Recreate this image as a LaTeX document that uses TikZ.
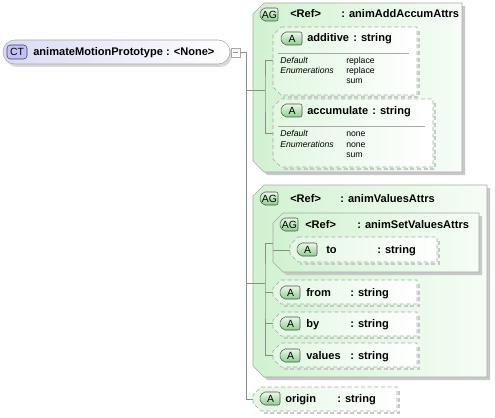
\documentclass[tikz,border=0pt]{standalone}
\usepackage{fontspec}
\setmainfont{Liberation Sans}
\usetikzlibrary{positioning}

\definecolor{agfill}{HTML}{D0F2D0}
\definecolor{agright}{HTML}{F6FDF6}
\definecolor{attrfill}{HTML}{E2F7E2}
\definecolor{boxline}{HTML}{A8A8A8}
\definecolor{shadowgrey}{HTML}{C8C8C8}
\definecolor{tagtop}{HTML}{EAF8EA}
\definecolor{tagbot}{HTML}{8CCF8C}
\definecolor{tagline}{HTML}{505050}
\definecolor{ctfill}{HTML}{DADAF5}
\definecolor{cttag}{HTML}{C2C2F0}
\definecolor{wireline}{HTML}{8C8C8C}

% group box with cut corners: x0, y0, x1, y1, cut
\newcommand{\agbox}[5]{%
  \fill[shadowgrey, shift={(3,3)}] (#1+#5,#2) -- (#3,#2) -- (#3,#4) -- (#1+#5,#4) -- (#1,#4-#5) -- (#1,#2+#5) -- cycle;
  \path[draw=boxline, left color=agfill, right color=agright] (#1+#5,#2) -- (#3,#2) -- (#3,#4) -- (#1+#5,#4) -- (#1,#4-#5) -- (#1,#2+#5) -- cycle;}
% attribute box, dashed: x0, y0, x1, y1, cut
\newcommand{\attrbox}[5]{%
  \draw[shadowgrey, dashpat, line width=1pt, shift={(2,2)}] (#3,#2+2) -- (#3,#4) -- (#1+#5,#4);
  \path[draw=boxline, dashpat, left color=attrfill, right color=white] (#1+#5,#2) -- (#3,#2) -- (#3,#4) -- (#1+#5,#4) -- (#1,#4-#5) -- (#1,#2+#5) -- cycle;}
% small tag: name, x0, y0, x1, text
\newcommand{\tagbox}[5]{%
  \path[draw=tagline, top color=tagtop, bottom color=tagbot, rounded corners=1.5pt] (#2+4,#3) -- (#4,#3) -- (#4,#3+13) -- (#2+4,#3+13) -- (#2,#3+6.5) -- cycle;
  \node[tagtext] (#1) at ({(#2+#4)/2+1},#3+6.8) {#5};}

\begin{document}
\begin{tikzpicture}[x=0.75pt, y=-0.75pt,
    lbl/.style={anchor=base west, inner sep=0pt, font=\fontsize{8.3}{10}\selectfont\bfseries},
    small/.style={anchor=base west, inner sep=0pt, font=\fontsize{6.5}{8}\selectfont},
    smallit/.style={small, font=\fontsize{6.5}{8}\selectfont\itshape},
    tagtext/.style={inner sep=0pt, font=\fontsize{7.8}{9}\selectfont},
    dashpat/.style={dash pattern=on 3pt off 2pt},
    wire/.style={draw=wireline, line width=0.5pt}]
  \useasboundingbox (0,0) rectangle (495,417);

  % complex type
  \fill[shadowgrey!70, rounded corners=9pt] (5,43) rectangle (232,67);
  \path[draw=boxline, left color=ctfill, right color=white, rounded corners=9pt] (3,40) rectangle (230,64);
  \path[draw=tagline!70!blue, fill=cttag, rounded corners=2.5pt] (7,45) rectangle (27,59);
  \node[tagtext] (ctTag) at (17,52.3) {CT};
  \node[lbl] (ct) at (33,56) {animateMotionPrototype : <None>};
  \node[draw=boxline, fill=white, minimum size=6.75pt, inner sep=0pt] (minus) at (235.5,52.5) {};
  \draw[wireline] ([xshift=1.5pt]minus.west) -- ([xshift=-1.5pt]minus.east);

  % first attribute group
  \agbox{253}{3}{462}{172}{11}
  \tagbox{agTagA}{259}{8}{278}{AG}
  \node[lbl] (refA) at (290,18) {<Ref>};
  \node[lbl] (agA) at (341,18) {: animAddAccumAttrs};

  \attrbox{273}{27}{417}{95}{8}
  \tagbox{tagAdd}{280}{32}{302}{A}
  \node[lbl] (additive) at (307,42) {additive};
  \node[lbl] (addType) at (353,42) {: string};
  \draw[boxline] (278,53) -- (409,53);
  \node[smallit] (addDef) at (280,64) {Default};
  \node[smallit] (addEnum) at (280,74) {Enumerations};
  \node[small] (addV1) at (346,64) {replace};
  \node[small] (addV2) at (346,74) {replace};
  \node[small] (addV3) at (346,84) {sum};

  \attrbox{273}{99}{433}{167}{8}
  \tagbox{tagAcc}{280}{104}{302}{A}
  \node[lbl] (accumulate) at (307,115) {accumulate};
  \node[lbl] (accType) at (372,115) {: string};
  \draw[boxline] (278,126) -- (425,126);
  \node[smallit] (accDef) at (280,137) {Default};
  \node[smallit] (accEnum) at (280,147) {Enumerations};
  \node[small] (accV1) at (346,137) {none};
  \node[small] (accV2) at (346,147) {none};
  \node[small] (accV3) at (346,157) {sum};

  % second attribute group
  \agbox{253}{185}{487}{377}{11}
  \tagbox{agTagB}{259}{192}{278}{AG}
  \node[lbl] (refB) at (290,202) {<Ref>};
  \node[lbl] (agB) at (340,202) {: animValuesAttrs};

  \agbox{273}{213}{479}{272}{10}
  \tagbox{agTagC}{279}{218}{298}{AG}
  \node[lbl] (refC) at (305,228) {<Ref>};
  \node[lbl] (agC) at (357,228) {: animSetValuesAttrs};

  \attrbox{290}{237}{437}{262}{8}
  \tagbox{tagTo}{296}{243}{317}{A}
  \node[lbl] (to) at (326,253) {to};
  \node[lbl] (toType) at (377,253) {: string};

  \attrbox{273}{280}{417}{304}{8}
  \tagbox{tagFrom}{279}{286}{300}{A}
  \node[lbl] (from) at (306,296) {from};
  \node[lbl] (fromType) at (350,296) {: string};

  \attrbox{273}{312}{417}{336}{8}
  \tagbox{tagBy}{279}{317}{300}{A}
  \node[lbl] (by) at (306,327) {by};
  \node[lbl] (byType) at (350,327) {: string};

  \attrbox{273}{343}{417}{367}{8}
  \tagbox{tagValues}{279}{349}{300}{A}
  \node[lbl] (values) at (306,359) {values};
  \node[lbl] (valuesType) at (350,359) {: string};

  % lone attribute
  \attrbox{253}{387}{397}{411}{8}
  \tagbox{tagOrigin}{259}{392}{280}{A}
  \node[lbl] (origin) at (285,402) {origin};
  \node[lbl] (originType) at (337,402) {: string};

  % tree lines
  \coordinate (trunk) at (246,52.5);
  \coordinate (origin-w) at (253,399);
  \coordinate (jA) at (265,90);
  \coordinate (add-w) at (273,60);
  \coordinate (acc-w) at (273,133);
  \coordinate (jB) at (265,283);
  \coordinate (agC-w) at (273,243);
  \coordinate (agC-in) at (273,250);
  \coordinate (to-w) at (290,250);
  \coordinate (from-w) at (273,292);
  \coordinate (by-w) at (273,323);
  \coordinate (values-w) at (273,355);

  \draw[wire] (minus.east) -- (trunk) |- (origin-w);
  \draw[wire] (trunk |- jA) -- (jA);
  \draw[wire] (add-w) -| (jA) |- (acc-w);
  \draw[wire] (trunk |- jB) -- (jB);
  \draw[wire] (agC-w) -| (jB) |- (values-w);
  \draw[wire] (jB |- from-w) -- (from-w);
  \draw[wire] (jB |- by-w) -- (by-w);
  \draw[wire] (agC-in) -- (to-w);
\end{tikzpicture}
\end{document}
